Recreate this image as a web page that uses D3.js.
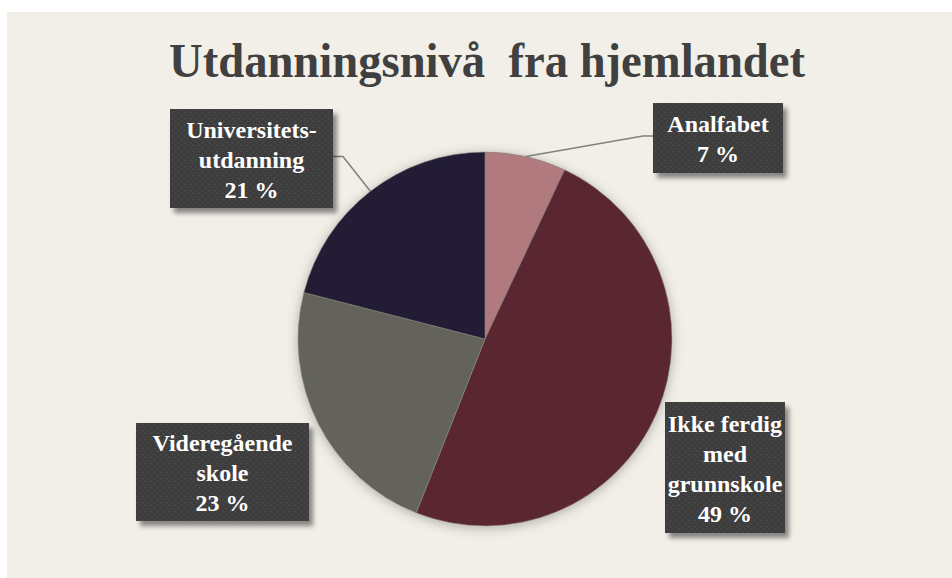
<!DOCTYPE html>
<html>
<head>
<meta charset="utf-8">
<script src="https://cdn.jsdelivr.net/npm/d3@7"></script>
<style>
  html, body { margin: 0; padding: 0; background: #ffffff; }
  svg { display: block; }
  .serif { font-family: "Liberation Serif", "Times New Roman", Times, "DejaVu Serif", serif; font-weight: bold; }
</style>
</head>
<body>
<div id="chart"></div>
<script>
// ---- Data ----
const title = "Utdanningsnivå\u00A0 fra hjemlandet";
const categories = ["Analfabet", "Ikke ferdig med grunnskole", "Videregående skole", "Universitetsutdanning"];
const values = [7, 49, 23, 21];
const labelLines = [
  ["Analfabet"],
  ["Ikke ferdig", "med", "grunnskole"],
  ["Videregående", "skole"],
  ["Universitets-", "utdanning"]
];
const colors = ["#b07a7e", "#5a2832", "#63645b", "#211c34"];

// ---- Layout ----
const W = 952, H = 578;
const cx = 485, cy = 339, R = 187;
const boxes = [
  { x: 653, y: 103, w: 130, h: 70, leader: true, side: "left" },
  { x: 665, y: 402, w: 120, h: 131, leader: false },
  { x: 136, y: 423, w: 173, h: 98, leader: false },
  { x: 170, y: 109, w: 163, h: 99, leader: true, side: "right" }
];

const svg = d3.select("#chart").append("svg")
  .attr("width", W).attr("height", H);

const defs = svg.append("defs");
const pat = defs.append("pattern").attr("id", "dots")
  .attr("patternUnits", "userSpaceOnUse").attr("width", 6).attr("height", 6);
pat.append("rect").attr("width", 6).attr("height", 6).attr("fill", "#3d3d3d");
pat.append("circle").attr("cx", 1.5).attr("cy", 1.5).attr("r", 0.9).attr("fill", "#4b4b4b");
pat.append("circle").attr("cx", 4.5).attr("cy", 4.5).attr("r", 0.9).attr("fill", "#4b4b4b");

const sh = defs.append("filter").attr("id", "boxShadow")
  .attr("x", "-20%").attr("y", "-20%").attr("width", "150%").attr("height", "150%");
sh.append("feDropShadow").attr("dx", 4).attr("dy", 5).attr("stdDeviation", 2.5)
  .attr("flood-color", "#000").attr("flood-opacity", 0.45);

const psh = defs.append("filter").attr("id", "pieShadow")
  .attr("x", "-20%").attr("y", "-20%").attr("width", "140%").attr("height", "140%");
psh.append("feDropShadow").attr("dx", 0).attr("dy", 2).attr("stdDeviation", 6)
  .attr("flood-color", "#000").attr("flood-opacity", 0.28);

svg.append("rect").attr("x", 7).attr("y", 12).attr("width", W - 7).attr("height", H - 12)
  .attr("fill", "#f2efe8");

svg.append("text")
  .attr("class", "serif")
  .attr("x", 487).attr("y", 77)
  .attr("text-anchor", "middle")
  .style("font-size", "48px")
  .attr("fill", "#404040")
  .attr("textLength", 636)
  .attr("lengthAdjust", "spacingAndGlyphs")
  .text(title);

const pie = d3.pie().sort(null).value(d => d)(values);
const arc = d3.arc().innerRadius(0).outerRadius(R);
const edgeArc = d3.arc().innerRadius(R).outerRadius(R);

const g = svg.append("g").attr("transform", `translate(${cx},${cy})`);
g.append("g").attr("filter", "url(#pieShadow)")
  .selectAll("path").data(pie).join("path")
  .attr("d", arc)
  .attr("fill", (d, i) => colors[i])
  .attr("stroke", "#8a8680")
  .attr("stroke-width", 0.6);

pie.forEach((d, i) => {
  const b = boxes[i];
  if (!b.leader) return;
  const [px, py] = edgeArc.centroid(d);
  const ex = b.side === "left" ? b.x : b.x + b.w;
  const ey = b.y + b.h / 2 - 2;
  const elbowX = b.side === "left" ? ex - 10 : ex + 10;
  svg.append("polyline")
    .attr("points", `${cx + px},${cy + py} ${elbowX},${ey} ${ex},${ey}`)
    .attr("fill", "none").attr("stroke", "#808080").attr("stroke-width", 1.5);
});

const lg = svg.append("g");
pie.forEach((d, i) => {
  const b = boxes[i];
  lg.append("rect").attr("x", b.x).attr("y", b.y).attr("width", b.w).attr("height", b.h)
    .attr("fill", "url(#dots)").attr("filter", "url(#boxShadow)");
  const lines = labelLines[i].concat([`${values[i]} %`]);
  const n = lines.length;
  const midY = b.y + b.h / 2;
  const t = lg.append("text")
    .attr("class", "serif")
    .attr("text-anchor", "middle")
    .style("font-size", "24px")
    .attr("fill", "#ffffff");
  lines.forEach((s, k) => {
    t.append("tspan").attr("x", b.x + b.w / 2)
      .attr("y", midY + (k - (n - 1) / 2) * 30 + 9)
      .text(s);
  });
});
</script>
</body>
</html>
